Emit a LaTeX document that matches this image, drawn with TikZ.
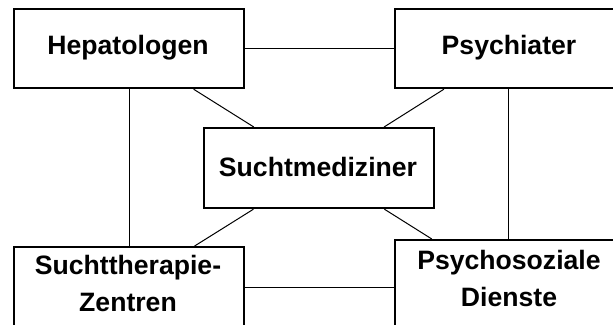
\documentclass[tikz,border=0pt]{standalone}
\usepackage{fontspec}
\setmainfont{Liberation Sans}
\begin{document}
\begin{tikzpicture}[x=1pt,y=-1pt,
  box/.style={draw=black, fill=white, line width=2.2pt, rectangle, inner sep=0pt, anchor=north west},
  lbl/.style={font=\fontsize{26.6}{36.5}\selectfont\bfseries, align=center, inner sep=0pt},
  conn/.style={draw=black, line width=1pt}]
\useasboundingbox (0,0) rectangle (613,324);
\clip (0,0) rectangle (613,324);
% boxes
\node[box, minimum width=230pt, minimum height=79pt] (hep) at (13,8) {};
\node[box, minimum width=226pt, minimum height=79pt] (psy) at (394,8) {};
\node[box, minimum width=230pt, minimum height=80pt] (sm) at (203,127) {};
\node[box, minimum width=230pt, minimum height=80pt] (st) at (13,246) {};
\node[box, minimum width=226pt, minimum height=94pt] (ps) at (394,239) {};
% labels
\node[lbl] (hept) at (128,47.5) {Hepatologen};
\node[lbl] (psyt) at (509,47.5) {Psychiater};
\node[lbl] (smt) at (318,167) {Suchtmediziner};
\node[lbl] (stt) at (128,283.5) {Suchttherapie-\\Zentren};
\node[lbl] (pst) at (509,278.5) {Psychosoziale\\Dienste};
% connectors
\draw[conn] (hep) -- (psy);
\draw[conn] (hep) -- (st);
\draw[conn] (psy) -- (ps);
\draw[conn] (st) -- (ps);
\draw[conn] (hep) -- (sm);
\draw[conn] (psy) -- (sm);
\draw[conn] (sm) -- (st);
\draw[conn] (sm) -- (ps);
\end{tikzpicture}
\end{document}
